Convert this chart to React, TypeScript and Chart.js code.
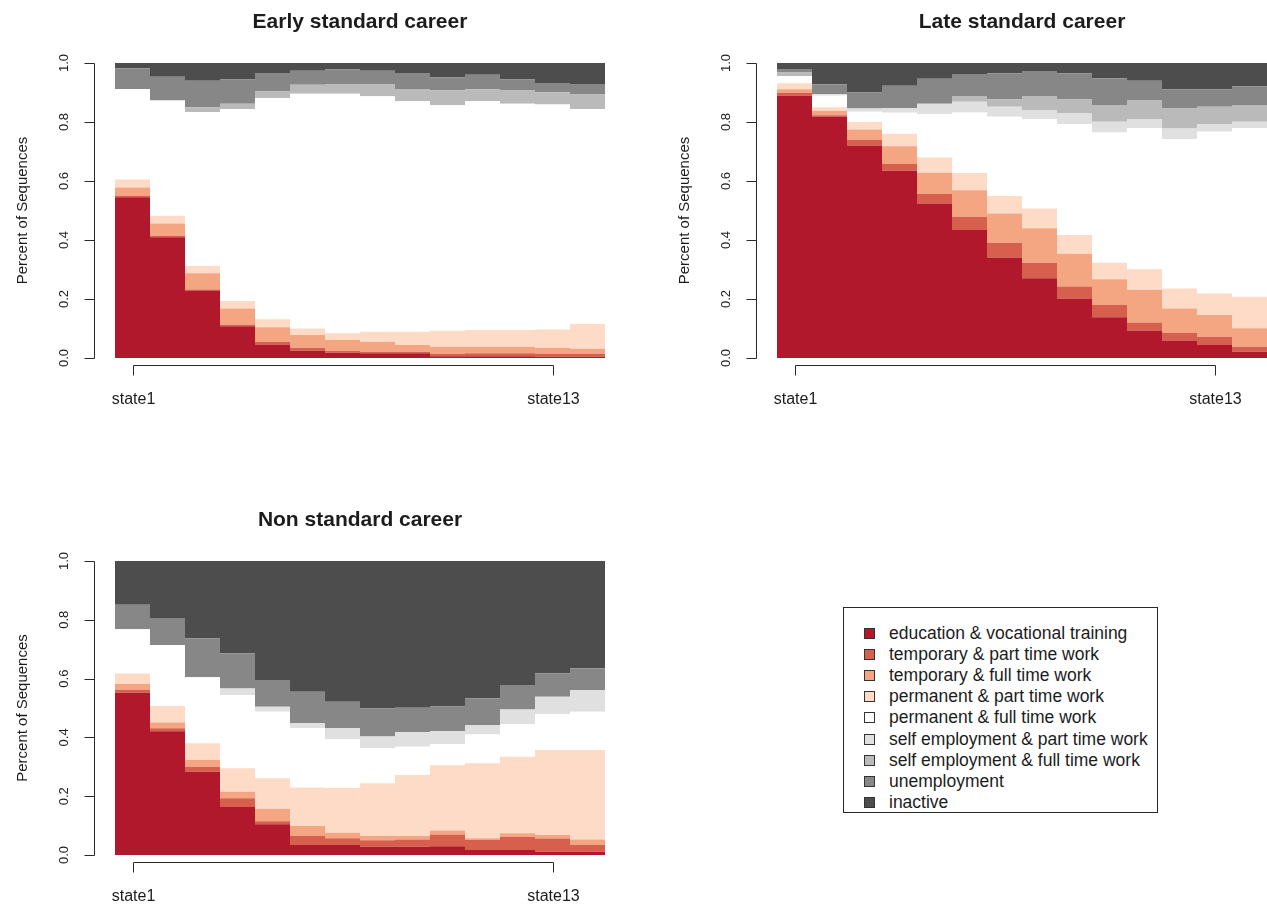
import React, { useEffect, useRef } from "react";
import { Chart, registerables } from "chart.js";

Chart.register(...registerables);

// Time points of the sequences (one bar per position)
const positions = [
  "state1", "state2", "state3", "state4", "state5", "state6", "state7",
  "state8", "state9", "state10", "state11", "state12", "state13", "state14",
];
// Positions that carry a label on the x axis
const labelledPositions = ["state1", "state13"];

const yTickValues = [0, 0.2, 0.4, 0.6, 0.8, 1.0];
const yTickLabels = ["0.0", "0.2", "0.4", "0.6", "0.8", "1.0"];

const stateNames = [
  "education & vocational training",
  "temporary & part time work",
  "temporary & full time work",
  "permanent & part time work",
  "permanent & full time work",
  "self employment & part time work",
  "self employment & full time work",
  "unemployment",
  "inactive",
];
const stateColors = [
  "#B2182B", "#D6604D", "#F4A582", "#FDDBC7", "#FFFFFF",
  "#E0E0E0", "#BABABA", "#878787", "#4D4D4D",
];

// ---- Early standard career: share of sequences in each state ----
const earlyEducation = [0.545, 0.409, 0.227, 0.108, 0.046, 0.025, 0.018, 0.016, 0.016, 0.006, 0.006, 0.006, 0.004, 0.004];
const earlyTempPart = [0.005, 0.005, 0.005, 0.005, 0.008, 0.010, 0.006, 0.005, 0.005, 0.008, 0.010, 0.010, 0.010, 0.010];
const earlyTempFull = [0.028, 0.042, 0.055, 0.055, 0.050, 0.043, 0.037, 0.034, 0.023, 0.024, 0.022, 0.022, 0.020, 0.017];
const earlyPermPart = [0.027, 0.026, 0.025, 0.025, 0.027, 0.022, 0.023, 0.034, 0.045, 0.054, 0.057, 0.057, 0.063, 0.084];
const earlyPermFull = [0.307, 0.391, 0.522, 0.651, 0.750, 0.796, 0.812, 0.798, 0.781, 0.765, 0.775, 0.767, 0.762, 0.729];
const earlySelfPart = [0, 0, 0, 0, 0, 0, 0, 0, 0, 0, 0, 0, 0, 0];
const earlySelfFull = [0, 0, 0.016, 0.018, 0.022, 0.030, 0.031, 0.040, 0.042, 0.051, 0.041, 0.045, 0.042, 0.049];
const earlyUnemployment = [0.070, 0.080, 0.090, 0.082, 0.063, 0.048, 0.051, 0.047, 0.054, 0.043, 0.049, 0.037, 0.031, 0.036];
const earlyInactive = [0.018, 0.047, 0.060, 0.056, 0.034, 0.026, 0.022, 0.026, 0.034, 0.049, 0.040, 0.056, 0.068, 0.071];

// ---- Late standard career ----
const lateEducation = [0.889, 0.819, 0.720, 0.635, 0.524, 0.434, 0.341, 0.270, 0.202, 0.138, 0.093, 0.059, 0.044, 0.021];
const lateTempPart = [0.010, 0.004, 0.020, 0.023, 0.032, 0.044, 0.050, 0.053, 0.040, 0.042, 0.027, 0.027, 0.028, 0.017];
const lateTempFull = [0.012, 0.015, 0.035, 0.060, 0.072, 0.091, 0.099, 0.117, 0.111, 0.087, 0.111, 0.082, 0.074, 0.063];
const latePermPart = [0.020, 0.012, 0.025, 0.042, 0.052, 0.058, 0.059, 0.067, 0.064, 0.056, 0.070, 0.068, 0.073, 0.107];
const latePermFull = [0.025, 0.039, 0.035, 0.071, 0.147, 0.205, 0.269, 0.302, 0.376, 0.441, 0.478, 0.506, 0.548, 0.571];
const lateSelfPart = [0, 0.005, 0.011, 0.016, 0.035, 0.037, 0.034, 0.032, 0.036, 0.037, 0.031, 0.036, 0.026, 0.022];
const lateSelfFull = [0.012, 0, 0, 0, 0, 0.019, 0.025, 0.047, 0.047, 0.057, 0.065, 0.068, 0.059, 0.057];
const lateUnemployment = [0.012, 0.034, 0.054, 0.076, 0.085, 0.075, 0.088, 0.085, 0.088, 0.090, 0.065, 0.065, 0.059, 0.062];
const lateInactive = [0.020, 0.072, 0.100, 0.077, 0.053, 0.037, 0.035, 0.027, 0.036, 0.052, 0.060, 0.089, 0.089, 0.080];

// ---- Non standard career ----
const nonEducation = [0.552, 0.421, 0.283, 0.163, 0.105, 0.034, 0.034, 0.028, 0.028, 0.030, 0.017, 0.017, 0.011, 0.011];
const nonTempPart = [0.010, 0.010, 0.017, 0.030, 0.010, 0.031, 0.023, 0.022, 0.025, 0.040, 0.035, 0.045, 0.045, 0.023];
const nonTempFull = [0.020, 0.020, 0.023, 0.022, 0.042, 0.034, 0.019, 0.015, 0.012, 0.013, 0.005, 0.012, 0.012, 0.019];
const nonPermPart = [0.035, 0.056, 0.057, 0.080, 0.104, 0.131, 0.152, 0.179, 0.207, 0.222, 0.255, 0.260, 0.289, 0.304];
const nonPermFull = [0.151, 0.207, 0.225, 0.249, 0.226, 0.201, 0.166, 0.119, 0.096, 0.072, 0.098, 0.111, 0.123, 0.130];
const nonSelfPart = [0, 0, 0, 0.022, 0.017, 0.017, 0.037, 0.040, 0.050, 0.045, 0.032, 0.050, 0.058, 0.074];
const nonSelfFull = [0, 0, 0, 0, 0, 0, 0, 0, 0, 0, 0, 0, 0, 0];
const nonUnemployment = [0.083, 0.092, 0.132, 0.119, 0.091, 0.107, 0.090, 0.095, 0.083, 0.083, 0.091, 0.083, 0.080, 0.074];
const nonInactive = [0.149, 0.194, 0.263, 0.315, 0.405, 0.445, 0.479, 0.502, 0.499, 0.495, 0.467, 0.422, 0.382, 0.365];

const FONT = '"Liberation Sans", Arial, Helvetica, sans-serif';
const INK = "#1c1c1c";

// R-style axes: detached y axis with rotated labels, x axis spanning the labelled positions
const rAxesPlugin = {
  id: "rAxes",
  afterDraw(chart: any, _args: any, opts: any) {
    const { ctx, chartArea } = chart;
    const xs = chart.scales.x;
    const ys = chart.scales.y;
    ctx.save();
    ctx.fillStyle = INK;
    ctx.strokeStyle = "#2a2a2a";
    ctx.lineWidth = 1;

    // panel title
    ctx.font = `bold 21px ${FONT}`;
    ctx.textAlign = "center";
    ctx.textBaseline = "alphabetic";
    ctx.fillText(opts.title, (chartArea.left + chartArea.right) / 2, chartArea.top - 35);

    // y axis line and ticks
    const ax = Math.round(chartArea.left - 21) + 0.5;
    ctx.beginPath();
    ctx.moveTo(ax, Math.round(ys.getPixelForValue(0)) + 0.5);
    ctx.lineTo(ax, Math.round(ys.getPixelForValue(1)) + 0.5);
    yTickValues.forEach((v) => {
      const py = Math.round(ys.getPixelForValue(v)) + 0.5;
      ctx.moveTo(ax, py);
      ctx.lineTo(ax - 10, py);
    });
    ctx.stroke();

    ctx.font = `13px ${FONT}`;
    ctx.textAlign = "center";
    ctx.textBaseline = "middle";
    yTickValues.forEach((v, i) => {
      ctx.save();
      ctx.translate(chartArea.left - 51, ys.getPixelForValue(v));
      ctx.rotate(-Math.PI / 2);
      ctx.fillText(yTickLabels[i], 0, 0);
      ctx.restore();
    });

    ctx.font = `15px ${FONT}`;
    ctx.save();
    ctx.translate(chartArea.left - 92, (chartArea.top + chartArea.bottom) / 2);
    ctx.rotate(-Math.PI / 2);
    ctx.fillText("Percent of Sequences", 0, 0);
    ctx.restore();

    // x axis line and ticks
    const idx = labelledPositions.map((p) => positions.indexOf(p));
    const px = idx.map((i) => Math.round(xs.getPixelForValue(i)) + 0.5);
    const ay = Math.round(chartArea.bottom + 7) + 0.5;
    ctx.beginPath();
    ctx.moveTo(px[0], ay);
    ctx.lineTo(px[px.length - 1], ay);
    px.forEach((x) => {
      ctx.moveTo(x, ay);
      ctx.lineTo(x, ay + 10);
    });
    ctx.stroke();

    ctx.font = `16px ${FONT}`;
    ctx.textAlign = "center";
    ctx.textBaseline = "middle";
    labelledPositions.forEach((label, k) => {
      ctx.fillText(label, px[k], chartArea.bottom + 42);
    });
    ctx.restore();
  },
};

function buildChart(
  canvas: HTMLCanvasElement,
  title: string,
  series: number[][],
  padding: { left: number; right: number; top: number; bottom: number }
) {
  return new Chart(canvas, {
    type: "bar",
    data: {
      labels: positions,
      datasets: series.map((values, i) => ({
        label: stateNames[i],
        data: values,
        backgroundColor: stateColors[i],
        borderWidth: 0,
        inflateAmount: 0,
        categoryPercentage: 1,
        barPercentage: 1,
      })),
    },
    options: {
      responsive: false,
      animation: false,
      devicePixelRatio: 1,
      layout: { padding },
      plugins: {
        legend: { display: false },
        title: { display: false },
        tooltip: { enabled: false },
        rAxes: { title },
      } as any,
      scales: {
        x: { stacked: true, display: false },
        y: { stacked: true, display: false, min: 0, max: 1 },
      },
    },
    plugins: [rAxesPlugin],
  });
}

const earlySeries = [earlyEducation, earlyTempPart, earlyTempFull, earlyPermPart, earlyPermFull, earlySelfPart, earlySelfFull, earlyUnemployment, earlyInactive];
const lateSeries = [lateEducation, lateTempPart, lateTempFull, latePermPart, latePermFull, lateSelfPart, lateSelfFull, lateUnemployment, lateInactive];
const nonSeries = [nonEducation, nonTempPart, nonTempFull, nonPermPart, nonPermFull, nonSelfPart, nonSelfFull, nonUnemployment, nonInactive];

export default function App() {
  const earlyRef = useRef<HTMLCanvasElement>(null);
  const lateRef = useRef<HTMLCanvasElement>(null);
  const nonRef = useRef<HTMLCanvasElement>(null);

  useEffect(() => {
    const charts = [
      buildChart(earlyRef.current!, "Early standard career", earlySeries, { left: 115, right: 35, top: 63, bottom: 82 }),
      buildChart(lateRef.current!, "Late standard career", lateSeries, { left: 137, right: 0, top: 63, bottom: 82 }),
      buildChart(nonRef.current!, "Non standard career", nonSeries, { left: 115, right: 35, top: 91, bottom: 54 }),
    ];
    return () => charts.forEach((c) => c.destroy());
  }, []);

  const canvasStyle = (left: number, top: number, w: number, h: number): React.CSSProperties => ({
    position: "absolute", left, top, width: w, height: h, display: "block",
  });

  return (
    <div style={{ position: "absolute", left: 0, top: 0, width: 1267, height: 909, background: "#fff", overflow: "hidden" }}>
      <canvas ref={earlyRef} width={640} height={440} style={canvasStyle(0, 0, 640, 440)} />
      <canvas ref={lateRef} width={627} height={440} style={canvasStyle(640, 0, 627, 440)} />
      <canvas ref={nonRef} width={640} height={439} style={canvasStyle(0, 470, 640, 439)} />
      <div
        style={{
          position: "absolute", left: 843, top: 607, width: 313, height: 204,
          border: "1px solid #2a2a2a", boxSizing: "content-box",
          fontFamily: FONT, fontSize: 17.5, color: INK,
        }}
      >
        {stateNames.map((name, i) => (
          <div
            key={name}
            style={{ position: "absolute", left: 0, top: 15 + i * 21.1, height: 21, display: "flex", alignItems: "center", whiteSpace: "nowrap" }}
          >
            <span
              style={{
                display: "inline-block", width: 9, height: 9, marginLeft: 20, marginRight: 14,
                background: stateColors[i], border: "1px solid #333",
              }}
            />
            <span style={{ lineHeight: "21px" }}>{name}</span>
          </div>
        ))}
      </div>
    </div>
  );
}
